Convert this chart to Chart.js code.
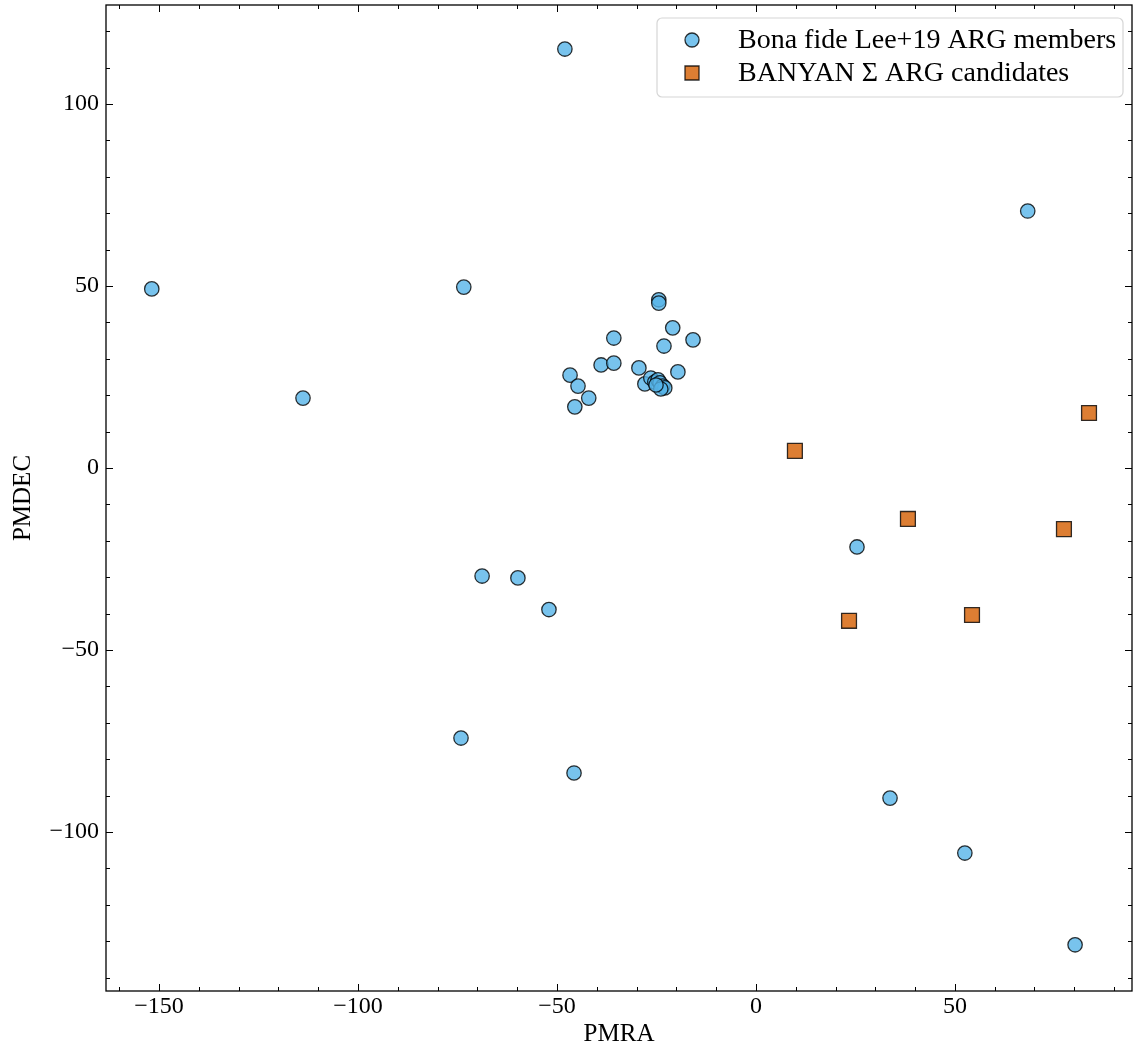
<!DOCTYPE html>
<html>
<head>
<meta charset="utf-8">
<script src="https://cdn.jsdelivr.net/npm/chart.js@4.4.1/dist/chart.umd.min.js"></script>
<style>
  html, body { margin: 0; padding: 0; background: #fff; }
  #wrap { width: 1133px; height: 1051px; }
</style>
</head>
<body>
<div id="wrap"><canvas id="pmChart" width="1133" height="1051"></canvas></div>
<script>
// proper motions (mas/yr) of the bona fide Lee+19 ARG members
const lee19Pmra = [
  -48.0, -151.8, -73.4, -113.8, 68.3, -24.4, -24.4, -35.7, -20.9, -15.8,
  -23.1, -38.9, -35.7, -46.7, -29.4, -19.6, -44.7, -42.0, -45.5,
  -27.9, -26.4, -25.4, -24.6, -24.1, -23.4, -22.9, -23.9, -25.1,
  -68.8, -59.8, -52.0, 25.4, -74.1, -45.7, 33.7, 52.5, 80.2
];
const lee19Pmdec = [
  115.1, 49.2, 49.7, 19.2, 70.6, 46.2, 45.3, 35.7, 38.5, 35.2,
  33.5, 28.3, 28.8, 25.5, 27.5, 26.4, 22.5, 19.2, 16.8,
  23.1, 24.7, 23.6, 24.2, 23.4, 22.5, 22.0, 21.7, 22.8,
  -29.7, -30.2, -38.9, -21.7, -74.2, -83.8, -90.7, -105.8, -131.0
];

// BANYAN Sigma candidates
const banyanPmra = [9.8, 83.7, 38.2, 77.4, 23.4, 54.3];
const banyanPmdec = [4.7, 15.1, -14.0, -16.8, -42.0, -40.4];

const xTicks = [-150, -100, -50, 0, 50];
const yTicks = [-100, -50, 0, 50, 100];
const xRange = [-163.3, 94.5];
const yRange = [-143.7, 127.2];

const serif = '"Liberation Serif", "DejaVu Serif", serif';
const minus = v => String(v).replace('-', '\u2212');

const toPoints = (xs, ys) => xs.map((x, i) => ({ x: x, y: ys[i] }));

// inward major/minor ticks on all four sides + frame
const frameTicks = {
  id: 'frameTicks',
  beforeDatasetsDraw(chart) {
    const { ctx, chartArea: a, scales } = chart;
    const xs = scales.x, ys = scales.y;
    ctx.save();
    ctx.strokeStyle = '#000';
    ctx.lineWidth = 1.3;
    ctx.strokeRect(a.left, a.top, a.right - a.left, a.bottom - a.top);
    ctx.lineWidth = 1;
    const tick = (x1, y1, x2, y2) => {
      ctx.beginPath(); ctx.moveTo(x1, y1); ctx.lineTo(x2, y2); ctx.stroke();
    };
    for (let v = Math.ceil(xRange[0] / 10) * 10; v <= xRange[1]; v += 10) {
      const px = Math.round(xs.getPixelForValue(v)) + 0.5;
      const len = v % 50 === 0 ? 7 : 4;
      tick(px, a.bottom, px, a.bottom - len);
      tick(px, a.top, px, a.top + len);
    }
    for (let v = Math.ceil(yRange[0] / 10) * 10; v <= yRange[1]; v += 10) {
      const py = Math.round(ys.getPixelForValue(v)) + 0.5;
      const len = v % 50 === 0 ? 7 : 4;
      tick(a.left, py, a.left + len, py);
      tick(a.right, py, a.right - len, py);
    }
    ctx.restore();
  }
};

// legend box in the upper right corner of the plot
const cornerLegend = {
  id: 'cornerLegend',
  afterDatasetsDraw(chart) {
    const { ctx, chartArea: a } = chart;
    const bx = a.right - 475, by = a.top + 13, bw = 466, bh = 79;
    ctx.save();
    ctx.beginPath();
    ctx.roundRect(bx, by, bw, bh, 5);
    ctx.fillStyle = 'rgba(255,255,255,0.8)';
    ctx.fill();
    ctx.strokeStyle = '#d6d6d6';
    ctx.lineWidth = 1.2;
    ctx.stroke();
    ctx.font = '28px ' + serif;
    ctx.textBaseline = 'middle';
    chart.data.datasets.forEach((ds, i) => {
      const cy = by + 22 + i * 33;
      const cx = bx + 35;
      ctx.fillStyle = ds.backgroundColor;
      ctx.strokeStyle = ds.borderColor;
      ctx.lineWidth = ds.borderWidth;
      ctx.beginPath();
      if (ds.pointStyle === 'rect') {
        ctx.rect(cx - 7, cy - 7, 14, 14);
      } else {
        ctx.arc(cx, cy, 7, 0, Math.PI * 2);
      }
      ctx.fill();
      ctx.stroke();
      ctx.fillStyle = '#000';
      ctx.fillText(ds.label, bx + 81, cy + 1);
    });
    ctx.restore();
  }
};

new Chart(document.getElementById('pmChart'), {
  type: 'scatter',
  data: {
    datasets: [
      {
        label: 'Bona fide Lee+19 ARG members',
        data: toPoints(lee19Pmra, lee19Pmdec),
        pointStyle: 'circle',
        pointRadius: 7.2,
        backgroundColor: 'rgba(86,180,233,0.8)',
        borderColor: 'rgba(0,0,0,0.8)',
        borderWidth: 1.3
      },
      {
        label: 'BANYAN \u03A3 ARG candidates',
        data: toPoints(banyanPmra, banyanPmdec),
        pointStyle: 'rect',
        pointRadius: 10.5,
        backgroundColor: 'rgba(213,94,0,0.8)',
        borderColor: 'rgba(0,0,0,0.8)',
        borderWidth: 1.3
      }
    ]
  },
  options: {
    responsive: false,
    animation: false,
    layout: { autoPadding: false, padding: { top: 5, right: 1, left: 0, bottom: 0 } },
    plugins: {
      legend: { display: false },
      tooltip: { enabled: false }
    },
    scales: {
      x: {
        type: 'linear',
        min: xRange[0],
        max: xRange[1],
        afterBuildTicks: s => { s.ticks = xTicks.map(v => ({ value: v })); },
        afterFit: s => { s.height = 60; s.paddingLeft = 0; s.paddingRight = 0; },
        grid: { display: false, drawTicks: false },
        border: { display: false },
        ticks: {
          color: '#000',
          padding: 1,
          maxRotation: 0,
          font: { family: serif, size: 24 },
          callback: v => minus(v)
        },
        title: {
          display: true,
          text: 'PMRA',
          color: '#000',
          font: { family: serif, size: 25 },
          padding: { top: 0, bottom: 2 }
        }
      },
      y: {
        type: 'linear',
        min: yRange[0],
        max: yRange[1],
        afterBuildTicks: s => { s.ticks = yTicks.map(v => ({ value: v })); },
        afterFit: s => { s.width = 106; s.paddingTop = 0; s.paddingBottom = 0; },
        grid: { display: false, drawTicks: false },
        border: { display: false },
        ticks: {
          color: '#000',
          padding: 7,
          font: { family: serif, size: 24 },
          callback: v => minus(v)
        },
        title: {
          display: true,
          text: 'PMDEC',
          color: '#000',
          font: { family: serif, size: 25 },
          padding: { top: 8, bottom: 0 }
        }
      }
    }
  },
  plugins: [frameTicks, cornerLegend]
});
</script>
</body>
</html>
